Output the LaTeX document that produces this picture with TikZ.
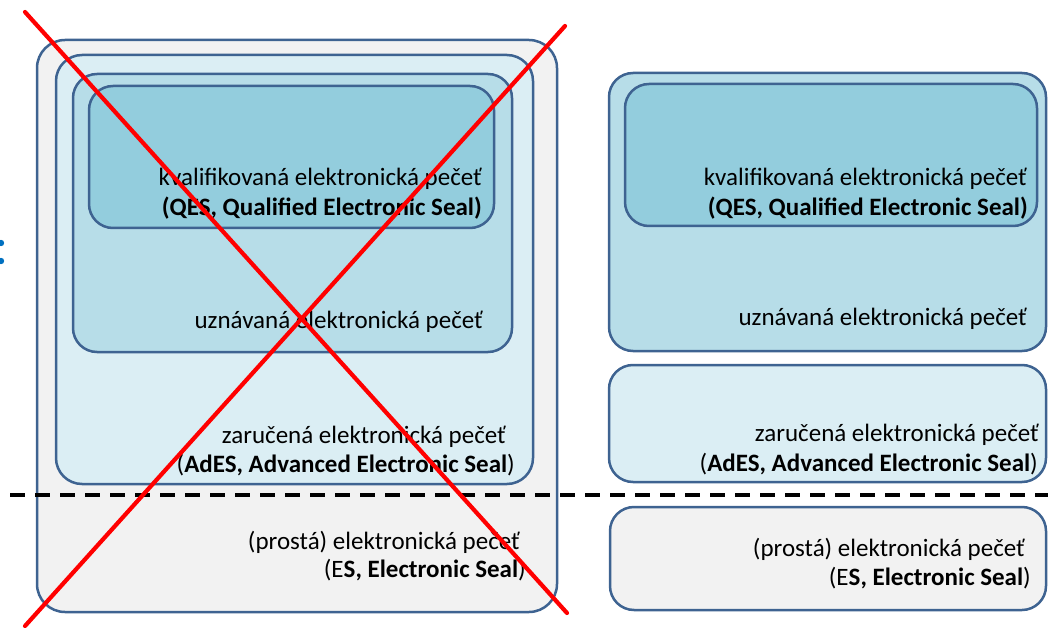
\documentclass[tikz,border=0pt]{standalone}
\usepackage{fontspec}
\setmainfont{Carlito}
\usetikzlibrary{fit}
\definecolor{edgeblue}{HTML}{3E6391}
\definecolor{fillgray}{HTML}{F2F2F2}
\definecolor{filllight}{HTML}{DBEEF4}
\definecolor{fillmid}{HTML}{B7DDE8}
\definecolor{filldark}{HTML}{93CDDD}
\definecolor{dotblue}{HTML}{0070C0}
\tikzset{
  sealbox/.style={draw=edgeblue, line width=2.5pt, rounded corners=24pt, inner sep=0pt},
  lbl/.style={font=\fontsize{25}{30}\selectfont, anchor=base east, inner sep=0pt, text=black},
  cross/.style={draw=red, line width=4.2pt, line cap=round},
  divider/.style={line width=3.5pt, dash pattern=on 15pt off 10pt}
}
\begin{document}
\begin{tikzpicture}[x=1pt, y=-1pt]
\useasboundingbox (0,0) rectangle (1048,628);

% cropped colon at the left edge
\fill[dotblue] (1,243) circle (3.2);
\fill[dotblue] (1,261) circle (3.2);

% nested hierarchy (left)
\node[sealbox, fill=fillgray,  rounded corners=28pt, fit={(37,40) (557,612)}] (esL) {};
\node[sealbox, fill=filllight, rounded corners=26pt, fit={(56,55) (533,484)}] (adesL) {};
\node[sealbox, fill=fillmid,   fit={(73,74) (512,352)}] (uznL) {};
\node[sealbox, fill=filldark,  fit={(89,86) (494,228)}] (qesL) {};

% separate levels (right)
\node[sealbox, fill=fillmid,   fit={(609,73) (1046,351)}] (uznR) {};
\node[sealbox, fill=filldark,  fit={(625,84) (1037,226)}] (qesR) {};
\node[sealbox, fill=filllight, fit={(609,365) (1046,482)}] (adesR) {};
\node[sealbox, fill=fillgray,  fit={(610,507) (1046,610)}] (esR) {};

% labels (left)
\node[lbl] (tqL1) at (482,186) {kvalifikovaná elektronická pečeť};
\node[lbl] (tqL2) at (482,216) {\bfseries (QES, Qualified Electronic Seal)};
\node[lbl] (tuL)  at (483,328) {uznávaná elektronická pečeť};
\node[lbl] (taL1) at (506,443) {zaručená elektronická pečeť};
\node[lbl] (taL2) at (515,472) {(\textbf{AdES, Advanced Electronic Seal})};
\node[lbl] (teL1) at (520,549) {(prostá) elektronická pečeť};
\node[lbl] (teL2) at (526,577) {(E\textbf{S, Electronic Seal})};

% labels (right)
\node[lbl] (tqR1) at (1027,186) {kvalifikovaná elektronická pečeť};
\node[lbl] (tqR2) at (1028,216) {\bfseries (QES, Qualified Electronic Seal)};
\node[lbl] (tuR)  at (1027,325) {uznávaná elektronická pečeť};
\node[lbl] (taR1) at (1039,441) {zaručená elektronická pečeť};
\node[lbl] (taR2) at (1038,471) {(\textbf{AdES, Advanced Electronic Seal})};
\node[lbl] (teR1) at (1025,556) {(prostá) elektronická pečeť};
\node[lbl] (teR2) at (1031,585) {(E\textbf{S, Electronic Seal})};

% signature / seal boundary
\coordinate (divW) at (10,495);
\coordinate (divE) at (1048,495);
\draw[divider] (divW) -- (divE);

% crossed-out nested model
\coordinate (xA) at (25,12);
\coordinate (xB) at (567,613);
\coordinate (xC) at (565,26);
\coordinate (xD) at (25,626);
\draw[cross] (xA) -- (xB);
\draw[cross] (xC) -- (xD);
\end{tikzpicture}
\end{document}
